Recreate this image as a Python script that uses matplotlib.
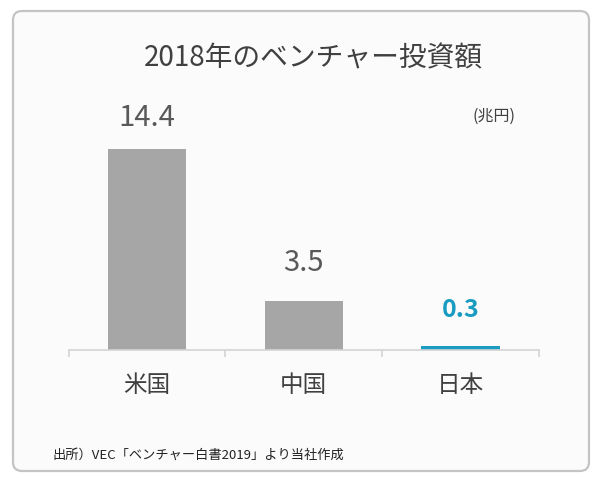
import matplotlib
matplotlib.use("Agg")
import matplotlib.pyplot as plt
from matplotlib.patches import FancyBboxPatch

plt.rcParams['font.family'] = ['Noto Sans CJK JP', 'DejaVu Sans']

categories = ['米国', '中国', '日本']
values = [14.4, 3.5, 0.3]
value_labels = ['14.4', '3.5', '0.3']
title = '2018年のベンチャー投資額'
unit = '(兆円)'
source = '出所）VEC「ベンチャー白書2019」より当社作成'

W, H = 595, 478
fig = plt.figure(figsize=(W / 100, H / 100), dpi=100)
fig.patch.set_facecolor('white')

# background card in pixel coords
bg = fig.add_axes([0, 0, 1, 1], zorder=0)
bg.set_xlim(0, W)
bg.set_ylim(H, 0)
bg.axis('off')
card = FancyBboxPatch((13, 11), 576, 460, boxstyle='round,pad=0,rounding_size=9',
                      facecolor='#fbfbfb', edgecolor='#c4c4c4', linewidth=1.6)
bg.add_patch(card)

bg.text(313, 58, title, ha='center', va='center', fontsize=20, color='#404040')
bg.text(494, 116, unit, ha='center', va='center', fontsize=11.5, color='#404040')
bg.text(52, 455, source, ha='left', va='center', fontsize=9.5, color='#222222')

# main axes
left_px, right_px = 68.5, 539
base_px = 350
ymax = 16
px_per_unit = 13.95
top_px = base_px - ymax * px_per_unit
ax = fig.add_axes([left_px / W, (H - base_px) / H, (right_px - left_px) / W,
                   (base_px - top_px) / H], zorder=1)
ax.patch.set_alpha(0)
x = list(range(len(categories)))
colors = ['#a6a6a6', '#a6a6a6', '#1a9cc2']
ax.bar(x, values, width=0.5, color=colors)
ax.set_xlim(-0.5, len(categories) - 0.5)
ax.set_ylim(0, ymax)

for s in ['top', 'right', 'left']:
    ax.spines[s].set_visible(False)
ax.spines['bottom'].set_color('#d4d4d4')
ax.spines['bottom'].set_linewidth(1.2)
ax.set_yticks([])
ax.set_xticks([i - 0.5 for i in range(len(categories) + 1)])
ax.set_xticklabels([])
ax.tick_params(axis='x', which='major', length=5, color='#d4d4d4', width=1.2)
ax.set_xticks(x, minor=True)
ax.set_xticklabels(categories, minor=True, fontsize=17, color='#404040')
ax.tick_params(axis='x', which='minor', length=0, pad=17.5)

label_colors = ['#595959', '#595959', '#1a9cc2']
label_weights = ['normal', 'normal', 'bold']
label_sizes = [21, 21, 18]
label_offsets = [11.5, 16.5, 17]
for xi, v, lab, c, w, fs, off in zip(x, values, value_labels, label_colors,
                                     label_weights, label_sizes, label_offsets):
    ax.annotate(lab, (xi, v), xytext=(0, off), textcoords='offset points',
                ha='center', va='bottom', fontsize=fs, color=c, fontweight=w)

fig.savefig('out.png', dpi=100, facecolor='white')
